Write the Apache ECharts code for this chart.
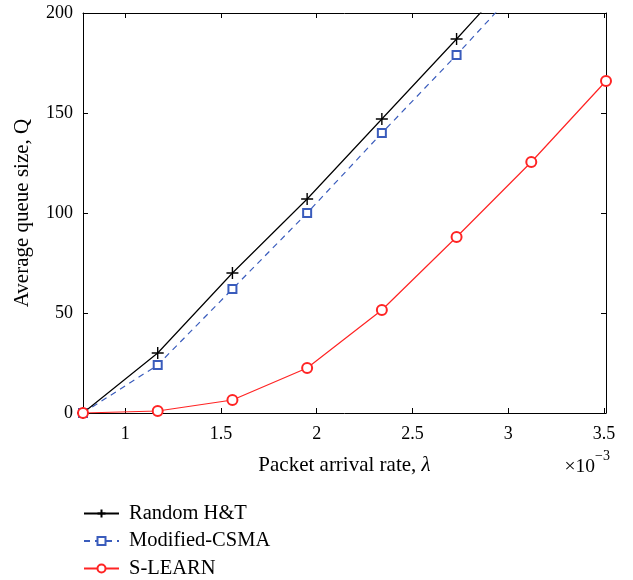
<!DOCTYPE html>
<html>
<head>
<meta charset="utf-8">
<script src="https://cdn.jsdelivr.net/npm/echarts@6/dist/echarts.min.js"></script>
<style>
  html, body { margin: 0; padding: 0; background: #fff; }
  #chart { width: 633px; height: 580px; }
</style>
</head>
<body>
<div id="chart"></div>
<script>
// Packet arrival rate (x 1e-3) at which each scheme was evaluated
const arrivalRates = [0.78, 1.17, 1.56, 1.95, 2.34, 2.73, 3.12, 3.51];

// Average queue size per scheme
const randomHT     = [0, 30, 70, 107, 147, 187, 228, 268];
const modifiedCSMA = [0, 24, 62, 100, 140, 179, 219.5, 260];
const sLearn       = [0, 1, 6.5, 22.5, 51.5, 88, 125.5, 166];

// Series names and tick labels
const seriesNames = ['Random H&T', 'Modified-CSMA', 'S-LEARN'];
const xTicks = [1, 1.5, 2, 2.5, 3, 3.5];
const yTicks = [0, 50, 100, 150, 200];

const FONT = '"Liberation Serif", "DejaVu Serif", serif';

const pairs = (vals) => arrivalRates.map((x, i) => [x, vals[i]]);

const plusPath = 'path://M0,5L10,5M5,0L5,10';

const chart = echarts.init(document.getElementById('chart'), null, { renderer: 'canvas' });

const baseX = {
  type: 'value',
  min: 0.78,
  max: 3.51,
  axisLine: { show: true, onZero: false, lineStyle: { color: '#000', width: 1 } },
  axisTick: { show: true, inside: true, length: 5, customValues: xTicks, lineStyle: { color: '#000' } },
  splitLine: { show: false }
};
const baseY = {
  type: 'value',
  min: 0,
  max: 200,
  interval: 50,
  axisLine: { show: true, onZero: false, lineStyle: { color: '#000', width: 1 } },
  axisTick: { show: true, inside: true, length: 5, lineStyle: { color: '#000' } },
  splitLine: { show: false }
};

// One legend block per entry, stacked under the plot
const legendTops = [503, 530.5, 558];
const legends = seriesNames.map((name, i) => ({
  orient: 'vertical',
  left: 83,
  top: legendTops[i],
  padding: 0,
  itemWidth: 35,
  itemHeight: 10,
  textStyle: { color: '#000', fontFamily: FONT, fontSize: 20.5, padding: [0, 0, 0, 5] },
  data: [name]
}));

chart.setOption({
  animation: false,
  backgroundColor: '#fff',
  textStyle: { fontFamily: FONT },
  grid: { left: 83, top: 13, width: 523, height: 400, containLabel: false },
  xAxis: [
    Object.assign({}, baseX, {
      position: 'bottom',
      axisLabel: {
        show: true, customValues: xTicks, margin: 12,
        color: '#000', fontFamily: FONT, fontSize: 18,
        formatter: (v) => String(v)
      },
      name: '{n|Packet arrival rate, }{l|λ}',
      nameLocation: 'middle',
      nameGap: 42,
      nameTextStyle: {
        color: '#000', fontFamily: FONT, fontSize: 21,
        rich: {
          n: { fontFamily: FONT, fontSize: 21, color: '#000' },
          l: { fontFamily: FONT, fontSize: 21, fontStyle: 'italic', color: '#000' }
        }
      }
    }),
    Object.assign({}, baseX, { position: 'top', axisLabel: { show: false } })
  ],
  yAxis: [
    Object.assign({}, baseY, {
      position: 'left',
      axisLabel: {
        show: true, margin: 10, color: '#000', fontFamily: FONT, fontSize: 18,
        customValues: yTicks
      },
      name: 'Average queue size, Q',
      nameLocation: 'middle',
      nameGap: 50,
      nameTextStyle: { color: '#000', fontFamily: FONT, fontSize: 21 }
    }),
    Object.assign({}, baseY, { position: 'right', axisLabel: { show: false } })
  ],
  legend: legends,
  graphic: [
    {
      type: 'text',
      right: 23,
      top: 449,
      style: {
        text: '{a|×10}{s|−3}',
        rich: {
          a: { fontFamily: FONT, fontSize: 19.5, fill: '#000', verticalAlign: 'bottom', padding: [8, 0, 0, 0] },
          s: { fontFamily: FONT, fontSize: 14, fill: '#000', verticalAlign: 'top' }
        }
      }
    }
  ],
  series: [
    {
      name: seriesNames[0],
      type: 'line',
      data: pairs(randomHT),
      clip: true,
      symbol: plusPath,
      symbolSize: 12,
      lineStyle: { color: '#000', width: 1.2 },
      itemStyle: { color: '#000', borderColor: '#000', borderWidth: 1.4 },
      z: 3
    },
    {
      name: seriesNames[1],
      type: 'line',
      data: pairs(modifiedCSMA),
      clip: true,
      symbol: 'emptyRect',
      symbolSize: 8,
      lineStyle: { color: '#3a5cbc', width: 1.2, type: [6, 5] },
      itemStyle: { color: '#3a5cbc', borderColor: '#3a5cbc', borderWidth: 1.3 },
      z: 2
    },
    {
      name: seriesNames[2],
      type: 'line',
      data: pairs(sLearn),
      clip: true,
      symbol: 'emptyCircle',
      symbolSize: 10,
      lineStyle: { color: '#ff2424', width: 1.2 },
      itemStyle: { color: '#ff2424', borderColor: '#ff2424', borderWidth: 1.3 },
      z: 4
    }
  ]
});
</script>
</body>
</html>
